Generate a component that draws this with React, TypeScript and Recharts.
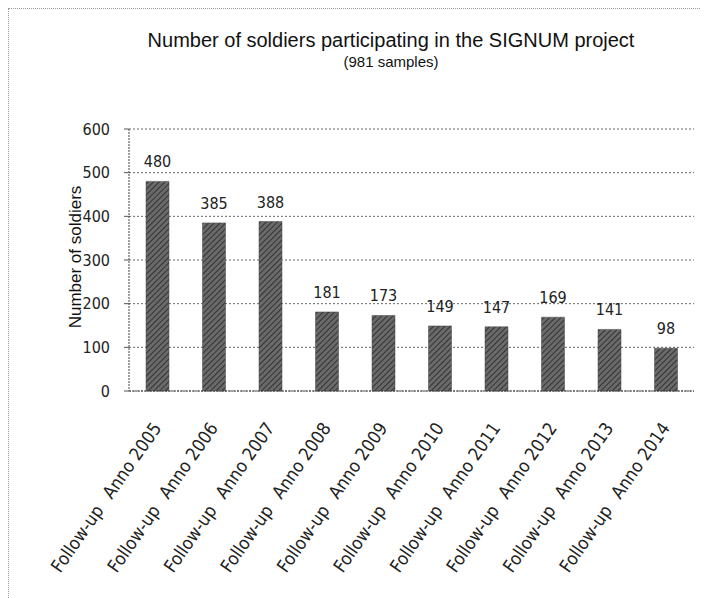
import React from 'react';
import { BarChart, Bar, XAxis, YAxis, CartesianGrid, LabelList } from 'recharts';

const years = ['2005', '2006', '2007', '2008', '2009', '2010', '2011', '2012', '2013', '2014'];
const soldiers = [480, 385, 388, 181, 173, 149, 147, 169, 141, 98];
const yTicks = [0, 100, 200, 300, 400, 500, 600];

const data = years.map((y, i) => ({ name: `Anno ${y}`, value: soldiers[i] }));

const tickFont = '"Liberation Sans Narrow", "DejaVu Sans Condensed", Arial, sans-serif';

// etichette ruotate dell'asse X: "Follow-up" + spazio largo + anno
const RotatedTick = (props: any) => {
  const { x, y, payload } = props;
  return (
    <g transform={`translate(${x + 5},${y + 29})`}>
      <text
        textAnchor="end"
        transform="rotate(-55)"
        fontSize={18}
        fontFamily={tickFont}
        fill="#222"
      >
        <tspan>Follow-up</tspan>
        <tspan dx={13}>{payload.value}</tspan>
      </text>
    </g>
  );
};

const App: React.FC = () => {
  return (
    <div
      style={{
        position: 'relative',
        width: 700,
        height: 590,
        background: '#fff',
        borderLeft: '1px dotted #999',
        borderTop: '1px dotted #999',
        boxSizing: 'border-box',
      }}
    >
      <div
        style={{
          position: 'absolute',
          top: 19,
          left: 60,
          width: 644,
          textAlign: 'center',
          fontFamily: '"Liberation Sans", Arial, sans-serif',
          color: '#111',
        }}
      >
        <div style={{ fontSize: 20, lineHeight: '25px' }}>
          Number of soldiers participating in the SIGNUM project
        </div>
        <div style={{ fontSize: 15, lineHeight: '18px' }}>(981 samples)</div>
      </div>
      <div
        style={{
          position: 'absolute',
          left: 67,
          top: 248,
          transform: 'translate(-50%, -50%) rotate(-90deg)',
          whiteSpace: 'nowrap',
          fontFamily: '"Liberation Sans", Arial, sans-serif',
          fontSize: 17,
          color: '#111',
        }}
      >
        Number of soldiers
      </div>
      <BarChart
        width={700}
        height={590}
        data={data}
        margin={{ top: 120, right: 15, left: 80, bottom: 8 }}
        barSize={23}
        style={{ position: 'absolute', left: 0, top: 0 }}
      >
        <defs>
          <pattern id="hatch" width="4" height="4" patternUnits="userSpaceOnUse" patternTransform="rotate(45)">
            <rect width="4" height="4" fill="#6a6a6a" />
            <line x1="0" y1="0" x2="0" y2="4" stroke="#333" strokeWidth="2" />
          </pattern>
        </defs>
        <CartesianGrid
          vertical={false}
          stroke="#666"
          strokeDasharray="2 2"
        />
        <XAxis
          dataKey="name"
          interval={0}
          height={200}
          tick={<RotatedTick />}
          tickLine={false}
          axisLine={{ stroke: '#444', strokeDasharray: '2 1' }}
        />
        <YAxis
          width={40}
          domain={[0, 600]}
          ticks={yTicks}
          tickSize={5}
          tickMargin={14}
          tick={{ fontSize: 16, fontFamily: tickFont, fill: '#222' }}
          tickLine={{ stroke: '#555' }}
          axisLine={{ stroke: '#444', strokeDasharray: '2 1' }}
        />
        <Bar dataKey="value" fill="url(#hatch)" stroke="#444" strokeWidth={0.5} isAnimationActive={false}>
          <LabelList
            dataKey="value"
            position="top"
            offset={14}
            fontSize={16}
            fontFamily={tickFont}
            fill="#222"
          />
        </Bar>
      </BarChart>
    </div>
  );
};

export default App;
